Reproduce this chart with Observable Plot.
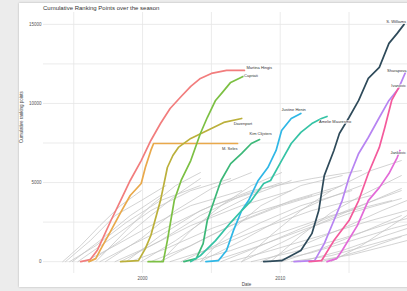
<!DOCTYPE html>
<html><head><meta charset="utf-8">
<script src="https://cdn.jsdelivr.net/npm/d3@7"></script>
<script src="https://cdn.jsdelivr.net/npm/@observablehq/plot@0.6"></script>
<style>
html,body{margin:0;padding:0;background:#ececec;width:407px;height:291px;overflow:hidden;font-family:"Liberation Sans",Arial,sans-serif;}
#card{position:absolute;left:19px;top:3px;width:430px;height:284px;background:#fff;box-shadow:0 0 2px rgba(0,0,0,0.25);}
#card svg{position:absolute;left:0;top:0;overflow:visible;}
#title{position:absolute;left:24px;top:1px;font-size:6px;line-height:8px;color:#333;white-space:nowrap;}
</style></head>
<body><div id="card"></div>
<script>
// ---- data ----
const titleText = "Cumulative Ranking Points over the season";
const yLabel = "Cumulative ranking points";
const xLabel = "Date";
const xTicks = [2000, 2010];
const yTicks = [0, 5000, 10000, 15000];

const names = ["Martina Hingis","M. Seles","Davenport","Capriati","Kim Clijsters","Justine Henin","Amelie Mauresmo","S. Williams","Sharapova","Ivanovic","Jankovic"];

const sRed = [[1995.5,0],[1996.2,130],[1996.7,700],[1997.7,2600],[1998.4,3860],[1999.1,5130],[1999.9,6390],[2000.6,7660],[2001.3,8730],[2002.0,9680],[2002.8,10440],[2003.5,11080],[2004.2,11580],[2005.0,11900],[2006.1,12090],[2007.4,12090]];
const sOrange = [[1996.1,0],[1996.6,190],[1996.9,700],[1997.7,1960],[1998.4,3100],[1999.1,4180],[1999.9,4940],[2000.2,5950],[2000.6,7030],[2000.8,7470],[2006.9,7470]];
const sOlive = [[1998.4,0],[1999.7,60],[2000.2,820],[2000.6,1650],[2001.3,3860],[2001.8,5950],[2002.2,6710],[2002.6,7220],[2003.5,7790],[2004.7,8290],[2005.9,8800],[2007.2,9050]];
const sLime = [[2000.4,0],[2001.5,0],[2001.8,1330],[2002.3,3860],[2002.8,5130],[2003.5,6390],[2004.2,8100],[2004.7,9110],[2005.3,10190],[2005.8,10700],[2006.4,11330],[2007.3,11710]];
const sGreen = [[2003.0,0],[2003.9,190],[2004.4,1140],[2004.7,2600],[2005.2,3860],[2005.7,5130],[2006.4,6200],[2007.2,6840],[2007.9,7470],[2008.5,7720]];
const sCyan = [[2004.6,0],[2005.5,60],[2006.1,700],[2006.6,1960],[2007.2,3230],[2007.7,3860],[2008.4,5130],[2009.1,5950],[2009.7,7030],[2010.1,8290],[2010.8,9050],[2011.5,9370]];
const sTeal = [[2003.5,0],[2004.2,380],[2005.3,1330],[2006.4,2470],[2007.2,3230],[2007.9,3860],[2008.8,4940],[2009.3,5130],[2010.1,6390],[2010.8,7470],[2011.5,8170],[2012.3,8730],[2013.0,9050],[2013.4,9180]];
const sDark = [[2008.8,0],[2010.1,60],[2011.5,700],[2012.3,1770],[2012.8,3230],[2013.2,5440],[2013.9,7030],[2014.3,8100],[2015.0,9110],[2015.7,10190],[2016.4,11580],[2017.2,12280],[2017.9,13800],[2018.5,14430],[2019.0,15000]];
const sPurple = [[2011.0,0],[2012.5,60],[2013.2,1140],[2013.9,2600],[2014.5,3860],[2015.0,5320],[2015.7,6840],[2016.4,7850],[2017.2,9110],[2017.9,10190],[2018.6,10950],[2019.1,11960]];
const sPink = [[2012.1,0],[2013.0,60],[2013.9,1330],[2015.0,2600],[2015.7,3860],[2016.4,5570],[2017.2,7220],[2017.6,8480],[2018.1,10190],[2018.7,11140]];
const sMagenta = [[2013.4,0],[2014.1,190],[2014.5,700],[2015.6,2280],[2016.4,3860],[2017.2,4680],[2017.9,5570],[2018.5,6580],[2018.7,7030]];

const others = [
 [[1994.2,0],[1995.5,1010],[1996.9,2280],[1998.4,3540],[1999.9,4490]],
 [[1994.4,0],[1996.2,1330],[1998.0,2910],[1999.9,3860],[2001.7,4810]],
 [[1994.7,0],[1996.6,1010],[1998.8,2470],[2001.3,3860],[2004.2,4810]],
 [[1994.9,0],[1996.9,1330],[1999.1,2910],[2001.3,4180]],
 [[1995.3,0],[1997.7,1460],[2000.6,3230],[2003.5,4490],[2006.4,5250]],
 [[1995.8,0],[1998.0,1010],[2000.6,2280],[2003.5,3540],[2007.2,4490]],
 [[1996.2,0],[1998.4,1330],[2000.6,2910],[2002.4,4180],[2004.2,5250]],
 [[1996.9,0],[1999.1,1010],[2002.0,2280],[2005.0,3540],[2008.6,4490]],
 [[1997.3,0],[1999.9,1460],[2002.4,3230],[2005.0,4620],[2007.9,5630]],
 [[1998.0,0],[2000.6,1010],[2003.5,2280],[2007.2,3540],[2010.8,4490]],
 [[1998.4,0],[2001.3,1330],[2004.2,2910],[2007.2,4180],[2010.1,5000]],
 [[1999.1,0],[2001.7,820],[2005.0,2090],[2008.6,3230],[2012.3,4180]],
 [[1999.9,0],[2002.4,1330],[2005.0,2910],[2007.9,4180],[2010.8,5130]],
 [[2000.6,0],[2003.5,1010],[2006.4,2280],[2010.1,3540],[2013.7,4490]],
 [[2001.3,0],[2004.2,1330],[2007.2,2600],[2010.8,3860],[2014.5,4810]],
 [[2002.0,0],[2005.0,820],[2008.6,2090],[2012.3,3230],[2016.6,4180]],
 [[2002.8,0],[2005.7,1200],[2008.6,2470],[2011.5,3540],[2015.2,4490]],
 [[2003.5,0],[2006.4,700],[2010.1,1840],[2013.7,2910],[2018.1,3860]],
 [[2004.2,0],[2007.2,1330],[2010.1,2720],[2013.0,3860],[2015.9,4810]],
 [[2005.0,0],[2007.9,820],[2011.5,1960],[2015.2,3100],[2018.8,3990]],
 [[2005.7,0],[2008.6,1010],[2011.5,2090],[2015.2,3350],[2018.8,4490]],
 [[2006.4,0],[2009.3,700],[2013.0,1650],[2016.6,2600],[2019.2,3230]],
 [[2007.2,0],[2010.1,1200],[2013.0,2470],[2015.9,3540],[2018.8,4620]],
 [[2007.9,0],[2010.8,570],[2014.5,1460],[2018.1,2470],[2019.2,2720]],
 [[2008.6,0],[2011.5,1010],[2014.5,2090],[2017.4,3230],[2019.2,3860]],
 [[2009.3,0],[2012.3,570],[2015.2,1330],[2018.1,2090],[2019.2,2340]],
 [[2010.1,0],[2013.0,820],[2015.9,1840],[2018.8,2910]],
 [[2010.8,0],[2013.7,380],[2016.6,1080],[2019.2,1710]],
 [[2011.5,0],[2014.5,700],[2017.4,1580],[2019.2,2090]],
 [[2012.3,0],[2015.2,440],[2018.1,1080],[2019.2,1330]],
 [[2013.0,0],[2015.9,700],[2018.8,1580]],
 [[2007.2,0],[2009.3,1650],[2011.5,3230],[2013.7,4490],[2016.6,5760],[2018.8,6390]],
 [[2004.2,0],[2006.4,1960],[2008.6,3540],[2011.5,4810],[2014.5,5440]],
 [[2001.3,0],[2003.5,1960],[2005.7,3540],[2007.9,4810],[2010.1,5630]],
 [[1996.6,0],[1998.8,1960],[2000.6,3540],[2002.4,4810],[2004.2,5630]],
 [[2009.3,0],[2011.5,1650],[2013.7,3100],[2015.9,4180],[2018.8,5440]],
 [[2013.7,0],[2015.9,1010],[2018.1,2280],[2019.2,2910]],
 [[1998.8,0],[2001.3,1650],[2004.2,3230],[2007.9,4490],[2012.3,5250],[2015.9,5760]]
];

// ---- styling (not data) ----
const series = [sRed,sOrange,sOlive,sLime,sGreen,sCyan,sTeal,sDark,sPurple,sPink,sMagenta];
const palette = ["#f27d7d","#e9a94b","#bbb03b","#7cc043","#3cb878","#2fb7e6","#35c3a5","#2e4a5a","#b784f2","#f45a9c","#e36bd8"];
const labelLayout = [
 {anchor:"start",dx:2,dy:-3},{anchor:"end",dx:0,dy:5},{anchor:"start",dx:-8,dy:5},
 {anchor:"start",dx:1,dy:-1},{anchor:"start",dx:-10,dy:-6},{anchor:"end",dx:5,dy:-4},
 {anchor:"start",dx:-8,dy:5},{anchor:"end",dx:2,dy:-3},{anchor:"end",dx:1,dy:-2},
 {anchor:"end",dx:6,dy:0},{anchor:"end",dx:6,dy:2}
];

const toRows = pts => pts.map(([d,v]) => ({date:d, pts:v}));
const marks = [
  Plot.gridY({ticks: d3.range(0, 15001, 2500), stroke:"#e6e6e6", strokeOpacity:1, strokeWidth:0.8}),
  Plot.gridX({ticks: d3.range(1995, 2016, 5), stroke:"#e6e6e6", strokeOpacity:1, strokeWidth:0.8}),
  Plot.axisY({ticks: yTicks, tickSize:0, tickPadding:2, fontSize:4.5, tickFormat:d3.format("d"), label:null, fill:"#555"}),
  Plot.axisX({ticks: xTicks, tickSize:0, tickPadding:3, fontSize:4.5, tickFormat:d3.format("d"), label:null, fill:"#555"}),
  Plot.text([yLabel], {text:d=>d, frameAnchor:"left", rotate:-90, dx:-22, fontSize:4.5, fill:"#444"}),
  Plot.text([xLabel], {text:d=>d, frameAnchor:"bottom", dy:12, fontSize:4.5, fill:"#444"})
];
others.forEach(o => marks.push(Plot.line(toRows(o), {x:"date", y:"pts", stroke:"#c4c4c4", strokeOpacity:0.75, strokeWidth:1})));
series.forEach((s,i) => marks.push(Plot.line(toRows(s), {x:"date", y:"pts", stroke:palette[i], strokeWidth:1.7})));
series.forEach((s,i) => {
  const last = s[s.length-1];
  const L = labelLayout[i];
  marks.push(Plot.text([{date:last[0], pts:last[1], name:names[i]}], {x:"date", y:"pts", text:"name", textAnchor:L.anchor, dx:L.dx, dy:L.dy, fontSize:4, fill:"#333", stroke:"white", strokeWidth:1.2}));
});

const chart = Plot.plot({
  width:430, height:284,
  marginLeft:24, marginRight:0, marginTop:9, marginBottom:14,
  x:{domain:[1992.8, 2022.3]},
  y:{domain:[-750, 15750]},
  style:{fontFamily:"'Liberation Sans', Arial, sans-serif", background:"transparent"},
  marks
});
const card = document.getElementById("card");
card.appendChild(chart);
const t = document.createElement("div");
t.id = "title"; t.textContent = titleText;
card.appendChild(t);
</script></body></html>
